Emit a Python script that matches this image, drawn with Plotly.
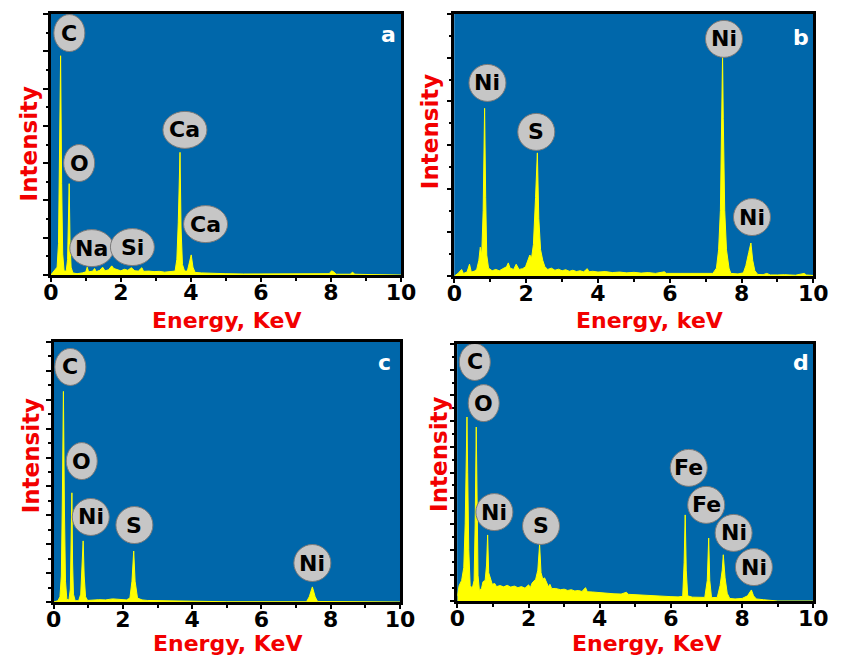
import plotly.graph_objects as go

# ---------------- spectra (energy in keV, relative intensity 0-100) ----------------
a_energy = [0.00, 0.10, 0.18, 0.22, 0.25, 0.28, 0.31, 0.34, 0.38, 0.44, 0.48, 0.505, 0.525, 0.55, 0.58,
            0.63, 0.75, 0.90, 1.00, 1.04, 1.08, 1.20, 1.25, 1.30, 1.40, 1.48, 1.55, 1.65, 1.74, 1.80,
            1.90, 2.00, 2.10, 2.20, 2.30, 2.40, 2.50, 2.60, 2.65, 2.80, 2.95, 3.10, 3.25, 3.40, 3.55,
            3.60, 3.64, 3.69, 3.72, 3.76, 3.82, 3.90, 3.95, 4.01, 4.06, 4.12, 4.30, 4.60, 5.00, 5.50,
            6.00, 6.50, 7.00, 7.50, 7.95, 8.02, 8.08, 8.15, 8.55, 8.62, 8.68, 9.00, 9.50, 10.00]
a_counts = [0.0, 1.5, 3.0, 12.0, 40.0, 84.0, 35.0, 8.0, 1.5, 1.5, 6.0, 20.0, 35.0, 12.0, 3.0,
            0.8, 0.5, 0.8, 1.2, 3.0, 1.2, 1.5, 2.5, 1.3, 1.8, 3.0, 1.6, 2.0, 3.5, 2.5,
            2.0, 1.6, 2.2, 1.8, 2.8, 1.6, 1.5, 2.8, 1.4, 1.5, 1.3, 1.4, 1.1, 1.2, 1.5,
            6.0, 20.0, 47.0, 18.0, 4.0, 1.5, 1.5, 4.0, 7.7, 3.0, 1.0, 0.8, 0.6, 0.5, 0.4,
            0.4, 0.3, 0.3, 0.3, 0.5, 1.6, 1.2, 0.3, 0.3, 1.1, 0.3, 0.2, 0.1, 0.0]

b_energy = [0.00, 0.10, 0.20, 0.25, 0.35, 0.42, 0.47, 0.55, 0.62, 0.68, 0.72, 0.76, 0.80, 0.84, 0.87,
            0.90, 0.95, 1.05, 1.15, 1.25, 1.35, 1.45, 1.50, 1.55, 1.65, 1.72, 1.80, 1.90, 1.98, 2.05,
            2.10, 2.15, 2.20, 2.26, 2.31, 2.35, 2.40, 2.46, 2.52, 2.60, 2.70, 2.80, 2.90, 3.00, 3.10,
            3.20, 3.30, 3.40, 3.50, 3.60, 3.70, 3.75, 3.85, 4.00, 4.20, 4.40, 4.60, 4.80, 5.00, 5.20,
            5.40, 5.60, 5.85, 5.90, 6.10, 6.40, 6.70, 7.00, 7.20, 7.30, 7.36, 7.41, 7.45, 7.47, 7.49,
            7.53, 7.58, 7.65, 7.70, 7.90, 8.05, 8.12, 8.20, 8.26, 8.31, 8.37, 8.45, 8.60, 8.70, 8.80,
            9.00, 9.20, 9.50, 9.75, 9.80, 10.00]
b_counts = [0.0, 1.0, 2.5, 1.0, 1.5, 4.5, 1.5, 1.8, 2.5, 6.0, 11.0, 8.0, 25.0, 64.0, 30.0,
            8.0, 3.0, 2.0, 2.5, 2.0, 2.8, 3.5, 5.0, 3.0, 2.5, 4.5, 2.5, 2.8, 3.5, 6.0,
            8.0, 7.0, 12.0, 30.0, 47.0, 22.0, 10.0, 6.0, 3.5, 2.5, 3.0, 2.2, 2.6, 2.0, 2.4,
            1.8, 2.2, 1.7, 2.0, 1.6, 2.8, 1.6, 1.8, 1.5, 1.7, 1.3, 1.5, 1.2, 1.4, 1.1,
            1.3, 1.0, 1.6, 1.0, 1.0, 0.9, 0.8, 0.8, 1.0, 3.0, 10.0, 25.0, 60.0, 84.0, 60.0,
            25.0, 10.0, 3.0, 1.0, 0.8, 1.2, 4.0, 9.0, 12.6, 6.0, 2.0, 0.6, 0.5, 1.0, 0.4,
            0.4, 0.5, 0.3, 1.0, 0.4, 0.2]

c_energy = [0.00, 0.12, 0.18, 0.22, 0.25, 0.28, 0.31, 0.34, 0.38, 0.44, 0.48, 0.505, 0.525, 0.545, 0.57,
            0.62, 0.72, 0.78, 0.82, 0.85, 0.88, 0.92, 0.98, 1.10, 1.30, 1.50, 1.70, 1.80, 1.90, 2.10,
            2.20, 2.26, 2.31, 2.35, 2.42, 2.55, 2.70, 3.00, 3.50, 3.80, 4.00, 5.00, 7.30, 7.38, 7.47,
            7.55, 7.62, 8.30, 10.00]
c_counts = [0.0, 0.5, 2.0, 10.0, 40.0, 81.0, 35.0, 8.0, 1.0, 0.8, 5.0, 20.0, 42.0, 15.0, 3.0,
            0.5, 0.5, 3.0, 12.0, 23.5, 10.0, 2.0, 0.6, 0.8, 0.9, 0.8, 1.2, 1.1, 1.0, 0.8,
            1.5, 8.0, 19.6, 8.0, 1.5, 0.8, 0.6, 0.5, 0.4, 0.4, 0.2, 0.1, 0.1, 2.0, 5.8,
            2.0, 0.2, 0.1, 0.0]

d_energy = [0.00, 0.05, 0.12, 0.18, 0.22, 0.25, 0.27, 0.29, 0.32, 0.36, 0.42, 0.47, 0.50, 0.53, 0.55,
            0.58, 0.62, 0.68, 0.72, 0.78, 0.82, 0.85, 0.88, 0.92, 0.98, 1.05, 1.10, 1.20, 1.30, 1.40,
            1.50, 1.60, 1.70, 1.80, 1.90, 2.00, 2.05, 2.10, 2.20, 2.26, 2.31, 2.35, 2.40, 2.45, 2.50,
            2.56, 2.60, 2.65, 2.75, 2.90, 3.00, 3.10, 3.20, 3.30, 3.40, 3.50, 3.60, 3.65, 3.80, 4.00,
            4.20, 4.40, 4.60, 4.75, 4.80, 5.00, 5.20, 5.40, 5.60, 5.80, 6.00, 6.20, 6.33, 6.37, 6.40,
            6.43, 6.47, 6.60, 6.80, 6.95, 7.02, 7.06, 7.09, 7.14, 7.30, 7.38, 7.44, 7.47, 7.52, 7.58,
            7.65, 7.80, 8.00, 8.15, 8.22, 8.26, 8.32, 8.40, 8.60, 8.80, 9.00, 10.00]
d_counts = [2.0, 6.0, 8.0, 13.0, 30.0, 55.0, 71.6, 50.0, 20.0, 6.0, 5.0, 8.0, 30.0, 67.7, 35.0,
            10.0, 4.0, 5.0, 7.5, 8.0, 14.0, 25.7, 11.0, 9.0, 6.5, 6.8, 5.6, 6.0, 5.5, 6.1,
            5.4, 5.8, 5.2, 5.6, 5.0, 6.3, 5.2, 7.0, 8.5, 12.0, 22.0, 11.0, 8.5, 9.0, 7.0,
            5.5, 6.5, 4.8, 4.9, 4.4, 4.6, 4.1, 4.4, 3.9, 4.1, 3.7, 5.2, 3.6, 3.5, 3.2,
            3.0, 2.8, 2.7, 3.4, 2.6, 2.4, 2.3, 2.1, 2.0, 1.9, 1.7, 1.6, 1.8, 15.0, 33.5,
            12.0, 2.0, 1.5, 1.4, 1.4, 8.0, 24.5, 8.0, 1.3, 1.4, 6.0, 12.0, 18.0, 9.0, 3.0,
            1.0, 0.8, 1.0, 2.0, 3.5, 4.3, 2.0, 0.8, 0.5, 0.2, 0.0, 0.0]

# ---------------- peak labels (symbol, bubble centre in keV / intensity) ----------------
a_labels = ["C", "O", "Na", "Si", "Ca", "Ca"]
a_label_x = [0.53, 0.81, 1.17, 2.33, 3.83, 4.42]
a_label_y = [92.7, 42.9, 10.3, 10.7, 55.6, 19.5]

b_labels = ["Ni", "S", "Ni", "Ni"]
b_label_x = [0.92, 2.28, 7.51, 8.29]
b_label_y = [73.7, 55.0, 90.5, 22.5]

c_labels = ["C", "O", "Ni", "S", "Ni"]
c_label_x = [0.48, 0.81, 1.07, 2.33, 7.47]
c_label_y = [90.4, 54.2, 32.7, 29.6, 15.0]

d_labels = ["C", "O", "Ni", "S", "Fe", "Fe", "Ni", "Ni"]
d_label_x = [0.49, 0.74, 1.04, 2.35, 6.50, 6.99, 7.76, 8.33]
d_label_y = [93.0, 77.0, 34.6, 29.2, 51.8, 37.4, 26.5, 13.2]

x_ticks = [0, 2, 4, 6, 8, 10]
x_titles = ["Energy, KeV", "Energy, keV", "Energy, KeV", "Energy, KeV"]
panel_letters = ["a", "b", "c", "d"]

# ---------------- styling ----------------
W, H = 841, 657
FONT = "DejaVu Sans"
BLUE = "#0067AA"
YELLOW = "#FFFF00"
RED = "#F20000"
BUBBLE_FILL = "#C6C6C6"
BUBBLE_EDGE = "#7A7A7A"
BUBBLE_W = {"C": 31, "O": 31, "S": 37, "Ni": 37, "Fe": 37, "Ca": 44, "Na": 44, "Si": 44}
BUBBLE_H = 37

# plot boxes in pixels: left, top, right, bottom
boxes = [(44, 14, 404, 275), (459, 14, 828, 276), (47, 342, 403, 602), (462, 344, 828, 601)]
y_major_counts = [7, 6, 9, 10]
x_title_pos = [(225, 320), (660, 320), (226, 643), (656, 643)]
y_title_pos = [(22, 144), (434, 132), (24, 456), (443, 454)]
letter_pos = [(391, 34), (815, 37), (387, 362), (815, 362)]

spectra = [(a_energy, a_counts), (b_energy, b_counts), (c_energy, c_counts), (d_energy, d_counts)]
labels = [(a_labels, a_label_x, a_label_y), (b_labels, b_label_x, b_label_y),
          (c_labels, c_label_x, c_label_y), (d_labels, d_label_x, d_label_y)]


def px(x):
    return x / W


def py(y):
    return 1 - y / H


fig = go.Figure()
shapes = []
annotations = []
layout_axes = {}

for i in range(4):
    sfx = "" if i == 0 else str(i + 1)
    xr, yr = "x" + sfx, "y" + sfx
    L, T, R, B = boxes[i]
    energy, counts = spectra[i]

    fig.add_trace(go.Scatter(
        x=energy, y=counts, xaxis=xr, yaxis=yr, mode="lines",
        fill="tozeroy", fillcolor=YELLOW,
        line=dict(color=YELLOW, width=1), hoverinfo="skip", showlegend=False,
    ))

    ymaj = 100 / y_major_counts[i]
    layout_axes["xaxis" + sfx] = dict(
        domain=[px(L), px(R)], anchor=yr, range=[0, 10],
        tickvals=x_ticks, ticks="outside", ticklen=4, tickwidth=2, tickcolor="black",
        ticklabelstandoff=-8,
        minor=dict(dtick=1, ticks="outside", ticklen=3, tickwidth=1.5, tickcolor="black"),
        showline=True, linecolor="black", linewidth=2.5, mirror=True,
        showgrid=False, zeroline=False,
        tickfont=dict(family=FONT, size=22, color="black", weight="bold"),
    )
    layout_axes["yaxis" + sfx] = dict(
        domain=[py(B), py(T)], anchor=xr, range=[0, 100],
        tick0=0, dtick=ymaj, ticks="outside", ticklen=5, tickwidth=2, tickcolor="black",
        minor=dict(dtick=ymaj / 2, ticks="outside", ticklen=2.5, tickwidth=1.5, tickcolor="black"),
        showticklabels=False,
        showline=True, linecolor="black", linewidth=2.5, mirror=True,
        showgrid=False, zeroline=False,
    )

    # blue plotting area
    shapes.append(dict(type="rect", xref=xr + " domain", yref=yr + " domain",
                       x0=0, x1=1, y0=0, y1=1, fillcolor=BLUE, line=dict(width=0), layer="below"))

    # peak label bubbles
    syms, lx, ly = labels[i]
    for s, xv, yv in zip(syms, lx, ly):
        w = BUBBLE_W[s]
        shapes.append(dict(type="circle", xref=xr, yref=yr,
                           xsizemode="pixel", ysizemode="pixel", xanchor=xv, yanchor=yv,
                           x0=-w / 2, x1=w / 2, y0=-BUBBLE_H / 2, y1=BUBBLE_H / 2,
                           fillcolor=BUBBLE_FILL, line=dict(color=BUBBLE_EDGE, width=1), layer="above"))
        annotations.append(dict(x=xv, y=yv, xref=xr, yref=yr, text=s, showarrow=False,
                                font=dict(family=FONT, size=22, color="black", weight="bold"),
                                xanchor="center", yanchor="middle"))

    # panel letter
    lxp, lyp = letter_pos[i]
    annotations.append(dict(x=px(lxp), y=py(lyp), xref="paper", yref="paper", text=panel_letters[i],
                            showarrow=False, xanchor="center", yanchor="middle",
                            font=dict(family=FONT, size=22, color="white", weight="bold")))
    # axis titles
    tx, ty = x_title_pos[i]
    annotations.append(dict(x=px(tx), y=py(ty), xref="paper", yref="paper", text=x_titles[i],
                            showarrow=False, xanchor="center", yanchor="middle",
                            font=dict(family=FONT, size=22, color=RED, weight="bold")))
    tx, ty = y_title_pos[i]
    annotations.append(dict(x=px(tx), y=py(ty), xref="paper", yref="paper", text="Intensity",
                            textangle=-90, showarrow=False, xanchor="center", yanchor="middle",
                            font=dict(family=FONT, size=23, color=RED, weight="bold")))

fig.update_layout(
    width=W, height=H, margin=dict(l=0, r=0, t=0, b=0),
    paper_bgcolor="white", plot_bgcolor=BLUE,
    shapes=shapes, annotations=annotations, **layout_axes,
)

fig.write_html("out.html")
